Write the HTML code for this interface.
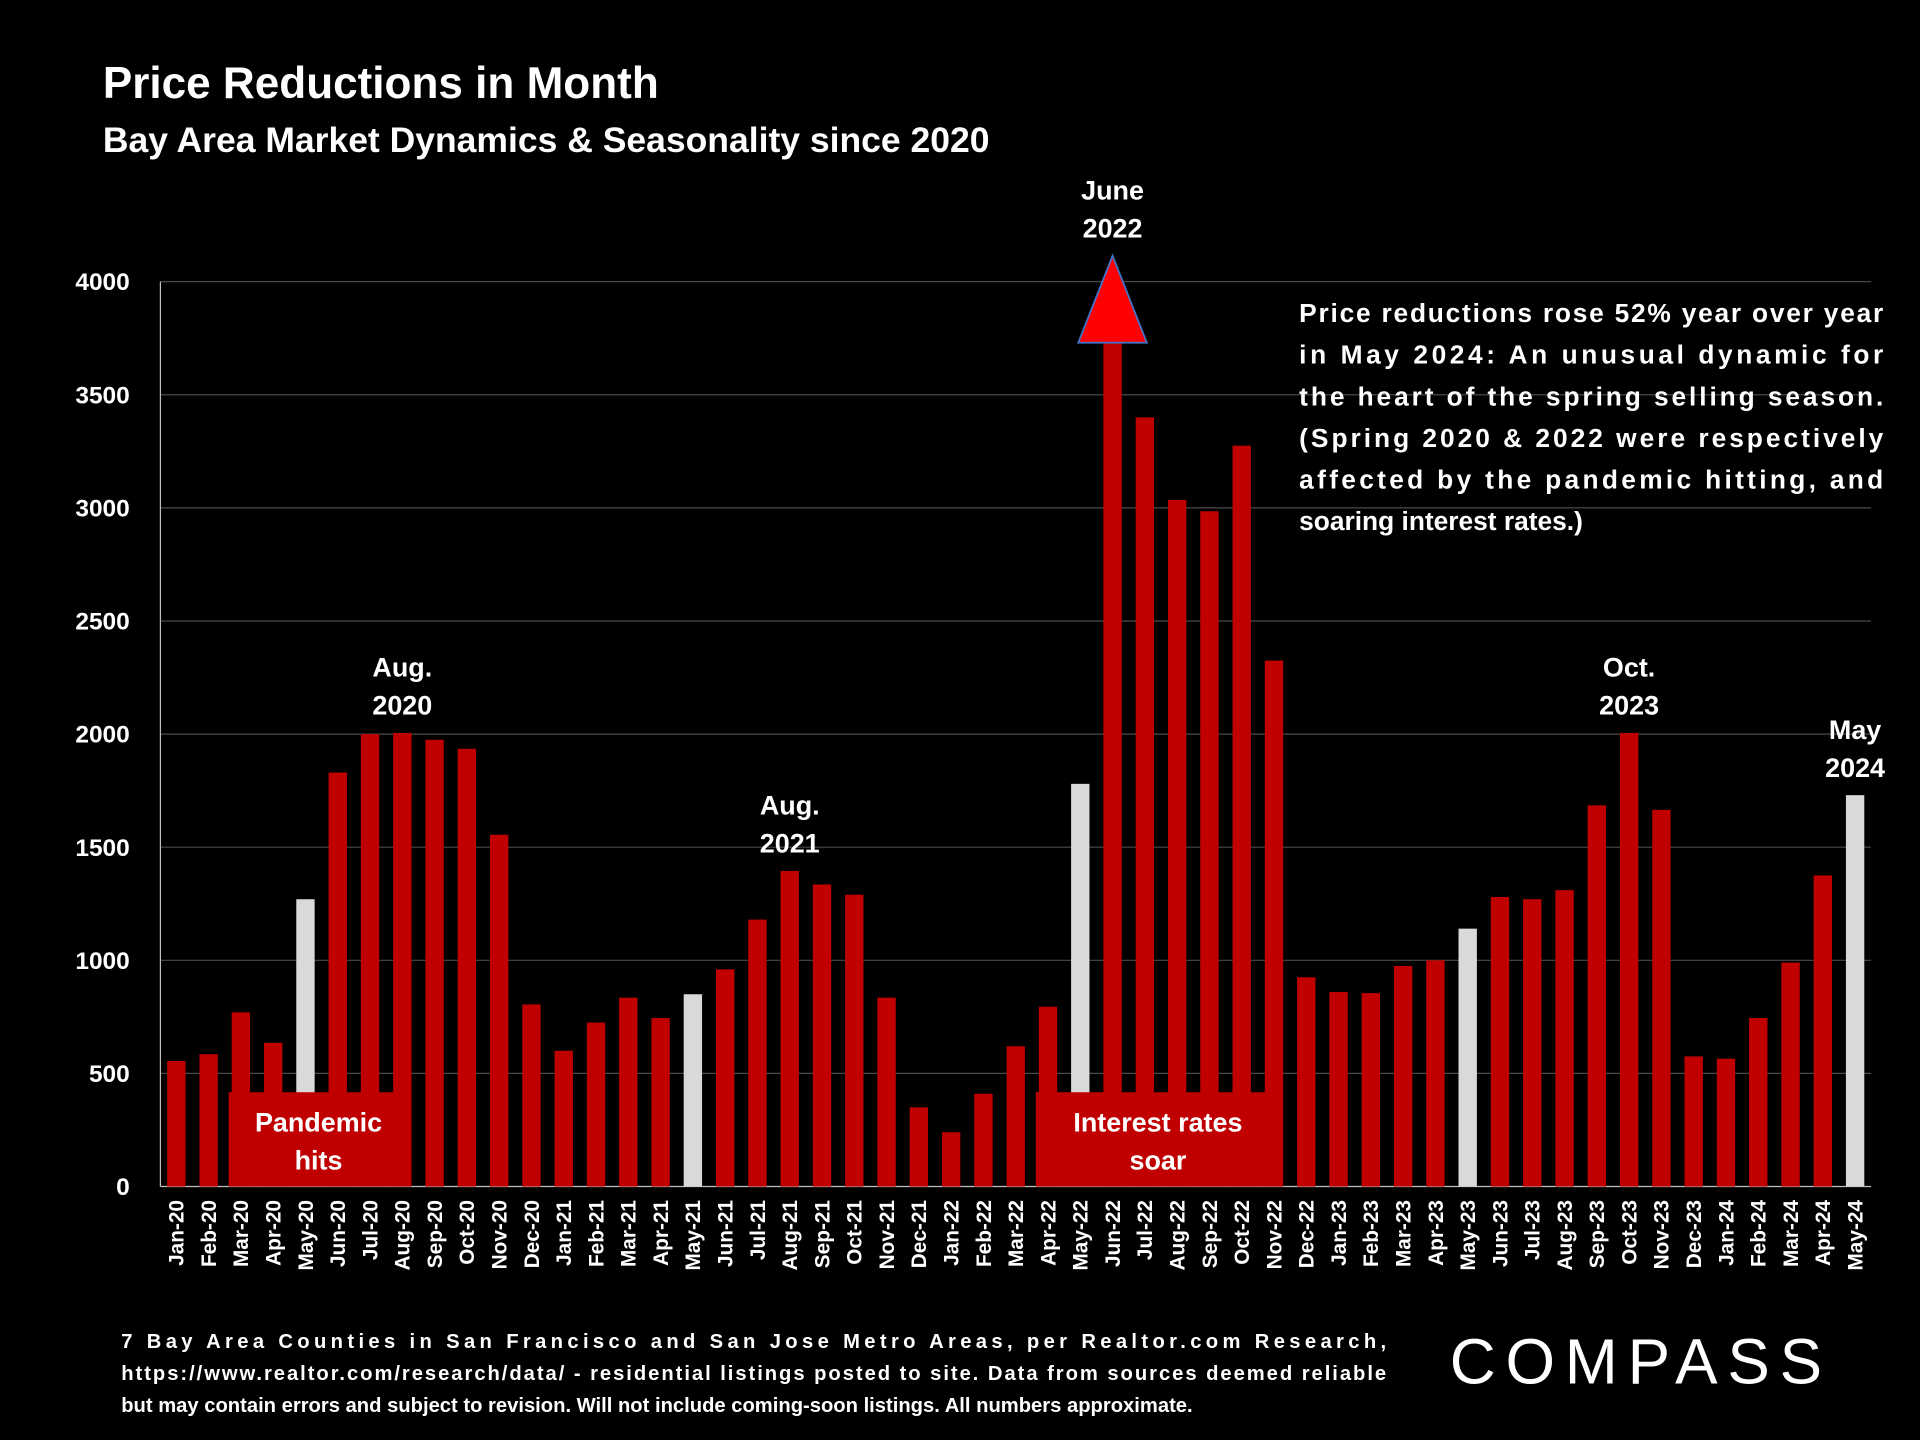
<!DOCTYPE html>
<html><head><meta charset="utf-8"><style>
html,body{margin:0;padding:0;background:#000;}
svg{display:block;font-family:"Liberation Sans",sans-serif;font-weight:bold;}
</style></head><body>
<svg id="chart" width="1920" height="1440" viewBox="0 0 1568 1176" xmlns="http://www.w3.org/2000/svg">
<rect width="1568" height="1176" fill="#000"/>
<text x="84" y="80" fill="#fff" font-size="36">Price Reductions in Month</text>
<text x="84" y="124" fill="#fff" font-size="29">Bay Area Market Dynamics &amp; Seasonality since 2020</text>
<g id="grid"></g><g id="bars"></g><g id="xlabels"></g><g id="ylabels"></g>
<g fill="#fff" font-size="21.5">
<text x="1061" y="263" textLength="477" lengthAdjust="spacing">Price reductions rose 52% year over year</text>
<text x="1061" y="297" textLength="477" lengthAdjust="spacing">in May 2024: An unusual dynamic for</text>
<text x="1061" y="331" textLength="477" lengthAdjust="spacing">the heart of the spring selling season.</text>
<text x="1061" y="365" textLength="477" lengthAdjust="spacing">(Spring 2020 &amp; 2022 were respectively</text>
<text x="1061" y="399" textLength="477" lengthAdjust="spacing">affected by the pandemic hitting, and</text>
<text x="1061" y="433">soaring interest rates.)</text>
</g>
<g fill="#fff" font-size="16.5">
<text x="99" y="1101" textLength="1033" lengthAdjust="spacing">7 Bay Area Counties in San Francisco and San Jose Metro Areas, per Realtor.com Research,</text>
<text x="99" y="1127" textLength="1033" lengthAdjust="spacing">https://www.realtor.com/research/data/ - residential listings posted to site.  Data from sources deemed reliable</text>
<text x="99" y="1153">but may contain errors and subject to revision. Will not include coming-soon listings. All numbers approximate.</text>
</g>
<text x="1340" y="1130" fill="#fff" font-size="52" font-weight="normal" text-anchor="middle" letter-spacing="8">COMPASS</text>
</svg>
<script>
const categories=["Jan-20","Feb-20","Mar-20","Apr-20","May-20","Jun-20","Jul-20","Aug-20","Sep-20","Oct-20","Nov-20","Dec-20","Jan-21","Feb-21","Mar-21","Apr-21","May-21","Jun-21","Jul-21","Aug-21","Sep-21","Oct-21","Nov-21","Dec-21","Jan-22","Feb-22","Mar-22","Apr-22","May-22","Jun-22","Jul-22","Aug-22","Sep-22","Oct-22","Nov-22","Dec-22","Jan-23","Feb-23","Mar-23","Apr-23","May-23","Jun-23","Jul-23","Aug-23","Sep-23","Oct-23","Nov-23","Dec-23","Jan-24","Feb-24","Mar-24","Apr-24","May-24"];
const values=[555,585,770,635,1270,1830,2000,2005,1975,1935,1555,805,600,725,835,745,850,960,1180,1395,1335,1290,835,350,240,410,620,795,1780,3730,3400,3035,2985,3275,2325,925,860,855,975,1000,1140,1280,1270,1310,1685,2005,1665,575,565,745,990,1375,1730];
const highlighted=["May-20","May-21","May-22","May-23","May-24"];
const yTicks=[0,500,1000,1500,2000,2500,3000,3500,4000];
const NS="http://www.w3.org/2000/svg";
const x0=131,x1=1528,yb=969,yt=230,first=144,last=1515,bw=15;
const y=v=>yb-(v/4000)*(yb-yt);
const x=i=>first+i*(last-first)/(categories.length-1);
function mk(t,a,p){const e=document.createElementNS(NS,t);for(const k in a)e.setAttribute(k,a[k]);p.appendChild(e);return e;}
const grid=document.getElementById('grid'),bars=document.getElementById('bars'),xl=document.getElementById('xlabels'),yl=document.getElementById('ylabels'),svg=document.getElementById('chart');
yTicks.forEach(v=>{
  const l=mk('line',{x1:x0,x2:x1,y1:y(v),y2:y(v),stroke:v===0?'#bfbfbf':'#4a4a4a','stroke-width':1},grid);
  
  
  const t=mk('text',{x:106,y:y(v)+7,fill:'#fff','font-size':20,'text-anchor':'end'},yl);
  t.textContent=v;
  
  
});
const ax=mk('line',{x1:x0,x2:x0,y1:yt,y2:yb,stroke:'#bfbfbf','stroke-width':1},grid);


categories.forEach((c,i)=>{
  const r=mk('rect',{x:x(i)-bw/2,y:y(values[i]),width:bw,height:yb-y(values[i]),fill:highlighted.includes(c)?'#d9d9d9':'#c00000'},bars);
  
  
  const t=mk('text',{x:0,y:0,fill:'#fff','font-size':17,'text-anchor':'end',transform:`translate(${x(i)+6},980) rotate(-90)`},xl);
  t.textContent=c;
  
  
});
const ji=categories.indexOf("Jun-22"),jx=x(ji),jy=y(values[ji]);
const tri=mk('polygon',{points:`${jx-28},${jy} ${jx+28},${jy} ${jx},${jy-71}`,fill:'#ff0000',stroke:'#4472c4','stroke-width':1.5},bars);


function box(name,i0,i1,l1,l2){
  const xa=x(i0)-10,xb=x(i1)+5;
  const r=mk('rect',{x:xa,y:892,width:xb-xa,height:77,fill:'#c00000'},bars);
  
  
  [l1,l2].forEach((s,k)=>{const t=mk('text',{x:(xa+xb)/2,y:924+k*31,fill:'#fff','font-size':22,'text-anchor':'middle'},bars);t.textContent=s;
  
  });
}
box('pandemic-box',2,7,'Pandemic','hits');
box('interest-rates-box',27,34,'Interest rates','soar');
function note(c,l1,l2){
  const i=categories.indexOf(c),top=c==="Jun-22"?jy-71:y(values[i]);
  [l1,l2].forEach((s,k)=>{const t=mk('text',{x:x(i),y:top-46+k*31,fill:'#fff','font-size':22,'text-anchor':'middle'},svg);t.textContent=s;
  
  });
}
note("Aug-20","Aug.","2020");note("Aug-21","Aug.","2021");note("Jun-22","June","2022");note("Oct-23","Oct.","2023");note("May-24","May","2024");
</script>
</body></html>
